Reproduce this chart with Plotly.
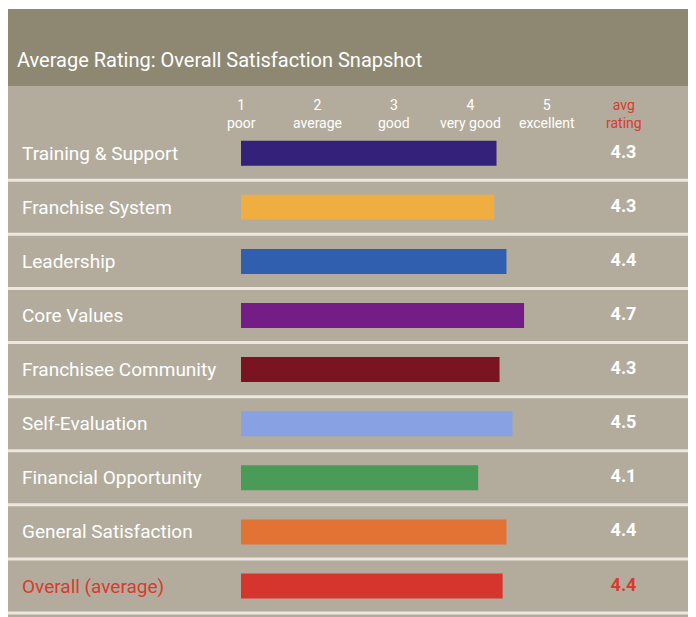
import plotly.graph_objects as go

# rows, top to bottom
categories = [
    "Training & Support",
    "Franchise System",
    "Leadership",
    "Core Values",
    "Franchisee Community",
    "Self-Evaluation",
    "Financial Opportunity",
    "General Satisfaction",
    "Overall (average)",
]
# printed averages (right column)
avg_rating = [4.3, 4.3, 4.4, 4.7, 4.3, 4.5, 4.1, 4.4, 4.4]
# bar lengths as drawn on the 1-5 scale
bar_score = [4.34, 4.31, 4.47, 4.70, 4.38, 4.55, 4.10, 4.47, 4.42]
bar_colors = ["#33217a", "#efae3f", "#2f5fae", "#741d87", "#7a1420",
              "#87a1e2", "#4a9a58", "#e27335", "#d6352e"]

scale_ticks = [1, 2, 3, 4, 5]
scale_words = ["poor", "average", "good", "very good", "excellent"]

W, H = 696, 617
FONT = "Roboto, Lato, sans-serif"
RED = "#d93a2f"
HEADER_BG = "#8e8873"
BODY_BG = "#b3ac9c"

# the page puts the figure 8px in from the top-left corner, so layout pixels are shifted by it
OFF = 8
X1_PX = 241 - OFF      # where 1 sits on the rating scale
UNIT_PX = 76.5         # one rating point
ROW0_PX = 153.2 - OFF  # centre of the first row
ROW_PX = 54.1          # row pitch

fig = go.Figure()

fig.add_trace(go.Bar(
    x=[v - 1 for v in bar_score],
    y=categories,
    base=1,
    orientation="h",
    marker=dict(color=bar_colors, line=dict(width=0)),
    width=25 / ROW_PX,
    hoverinfo="skip",
))

text_colors = ["white"] * (len(categories) - 1) + [RED]
fig.add_trace(go.Scatter(
    x=[6] * len(categories),
    y=categories,
    mode="text",
    text=[f"{v:.1f}" for v in avg_rating],
    textposition="middle center",
    textfont=dict(family=FONT, size=18, color=text_colors, weight="bold"),
    hoverinfo="skip",
))

# background panels
shapes = [
    dict(type="rect", xref="paper", yref="paper", x0=0, x1=1, y0=0, y1=1 - 78 / H,
         fillcolor=BODY_BG, line_width=0, layer="below"),
    dict(type="rect", xref="paper", yref="paper", x0=0, x1=1, y0=1 - 78 / H, y1=1 - 1 / H,
         fillcolor=HEADER_BG, line_width=0, layer="below"),
]
# white row separators
for i in range(len(categories)):
    shapes.append(dict(type="line", xref="paper", yref="y", x0=0, x1=1,
                       y0=i + 0.5, y1=i + 0.5,
                       line=dict(color="#ece8e0", width=3), layer="below"))

annotations = [
    dict(text="Average Rating: Overall Satisfaction Snapshot", xref="paper", yref="paper",
         x=7 / W, y=1 - 52 / H, xanchor="left", yanchor="middle", showarrow=False,
         font=dict(family=FONT, size=20, color="white")),
]
for t, w in zip(scale_ticks, scale_words):
    annotations.append(dict(text=f"{t}<br>{w}", xref="x", yref="paper", x=t, y=1 - 106 / H,
                            xanchor="center", yanchor="middle", showarrow=False,
                            font=dict(family=FONT, size=14, color="white")))
annotations.append(dict(text="avg<br>rating", xref="x", yref="paper", x=6, y=1 - 106 / H,
                        xanchor="center", yanchor="middle", showarrow=False,
                        font=dict(family=FONT, size=14, color=RED)))
for i, c in enumerate(categories):
    annotations.append(dict(text=c, xref="paper", yref="y", x=12 / W, y=c,
                            xanchor="left", yanchor="middle", showarrow=False,
                            font=dict(family=FONT, size=19,
                                      color=RED if i == len(categories) - 1 else "white")))

fig.update_layout(
    width=W, height=H,
    margin=dict(l=0, r=0, t=0, b=0),
    paper_bgcolor="white",
    plot_bgcolor="rgba(0,0,0,0)",
    showlegend=False,
    shapes=shapes,
    annotations=annotations,
    xaxis=dict(range=[1 - X1_PX / UNIT_PX, 1 + (W - X1_PX) / UNIT_PX],
               visible=False, fixedrange=True),
    yaxis=dict(range=[(H - ROW0_PX) / ROW_PX, -ROW0_PX / ROW_PX], visible=False,
               categoryorder="array", categoryarray=categories, fixedrange=True),
)

fig.write_html("out.html")
